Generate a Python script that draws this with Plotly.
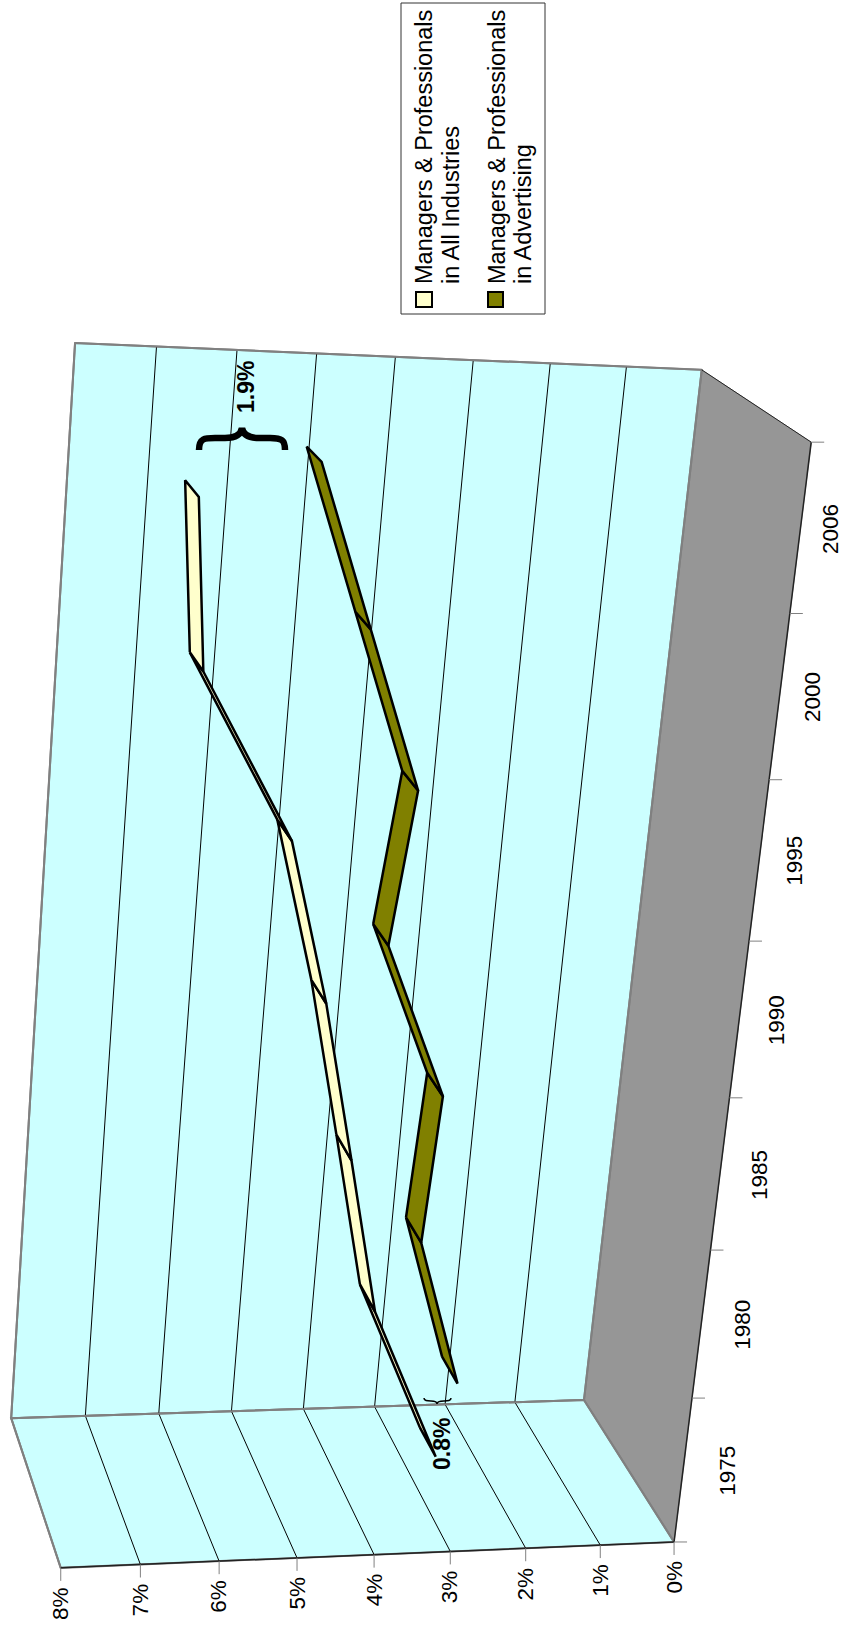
import numpy as np
import plotly.graph_objects as go

categories = ["1975", "1980", "1985", "1990", "1995", "2000", "2006"]
value_ticks = ["0%", "1%", "2%", "3%", "4%", "5%", "6%", "7%", "8%"]
all_industries = [3.13, 4.11, 4.59, 5.08, 5.67, 6.89, 7.09]
advertising = [2.30, 2.99, 2.89, 3.80, 3.60, 4.39, 5.18]

W, H = 849, 1627
world = np.array([[0,0,1],[0,0,0],[1,0,0],[1,0,1],[0,1,0],[0,1,1],[1,1,0]], float)
pix = np.array([[674,1542],[584,1400],[702,370],[811,442],[11,1418],[61,1568],[75,343]], float)
rows = []
for (u, v, d), (x, y) in zip(world, pix):
    X = [u, v, d, 1]
    rows.append(X + [0]*4 + [-x*c for c in X])
    rows.append([0]*4 + X + [-y*c for c in X])
P = np.linalg.svd(np.array(rows))[2][-1].reshape(3, 4)

def proj(u, v, d):
    h = P @ np.array([u, v, d, 1.0])
    return h[0]/h[2], h[1]/h[2]

fig = go.Figure()

def poly(points, fill, line="#808080", width=2):
    xs = [p[0] for p in points] + [points[0][0]]
    ys = [p[1] for p in points] + [points[0][1]]
    fig.add_trace(go.Scatter(x=xs, y=ys, mode="lines", fill="toself", fillcolor=fill,
                             line=dict(color=line, width=width), hoverinfo="skip", showlegend=False))

def segs(pairs, color="black", width=1):
    xs, ys = [], []
    for a, b in pairs:
        xs += [a[0], b[0], None]; ys += [a[1], b[1], None]
    fig.add_trace(go.Scatter(x=xs, y=ys, mode="lines", line=dict(color=color, width=width),
                             hoverinfo="skip", showlegend=False))

poly([proj(0,0,1), proj(0,0,0), proj(1,0,0), proj(1,0,1)], "#969696", "#969696", 1)
poly([proj(0,0,0), proj(1,0,0), proj(1,1,0), proj(0,1,0)], "#CCFFFF")
poly([proj(0,0,1), proj(0,0,0), proj(0,1,0), proj(0,1,1)], "#CCFFFF")
n = len(value_ticks) - 1
grid = []
for k in range(1, n):
    v = k/n
    grid += [(proj(0,v,1), proj(0,v,0)), (proj(0,v,0), proj(1,v,0))]
segs(grid)
segs([(proj(0,0,0), proj(1,0,0)), (proj(0,0,0), proj(0,1,0)), (proj(0,0,0), proj(0,0,1)), (proj(0,1,0), proj(0,1,1)),
      (proj(0,1,0), proj(1,1,0)), (proj(1,0,0), proj(1,1,0))], "#808080", 2)
segs([(proj(0,0,1), proj(1,0,1)), (proj(0,0,1), proj(0,1,1))], "#222222", 1.5)
segs([(proj(1,0,0), proj(1,0,1))], "#222222", 1)
ticks = []
for k in range(n+1):
    p = proj(0, k/n, 1); ticks.append((p, (p[0], p[1]+13)))
nc = len(categories)
for i in range(nc+1):
    p = proj(i/nc, 0, 1); ticks.append((p, (p[0]+13, p[1])))
segs(ticks, "#808080", 1)

def ribbon(values, d0, d1, color):
    for i in range(len(values)-1):
        u0, u1 = (i+.5)/nc, (i+1.5)/nc
        v0, v1 = values[i]/8, values[i+1]/8
        poly([proj(u0,v0,d0), proj(u0,v0,d1), proj(u1,v1,d1), proj(u1,v1,d0)], color, "black", 2.5)

ribbon(advertising, 0.15, 0.35, "#808000")
ribbon(all_industries, 0.65, 0.85, "#FFFFCC")

def text(s, x, y, size=22.5, bold=False, xa="center", ya="middle", angle=-90):
    fig.add_annotation(x=x, y=y, text="<b>%s</b>" % s if bold else s, showarrow=False, textangle=angle,
                       xanchor=xa, yanchor=ya, borderpad=0, font=dict(family="Liberation Sans", size=size, color="black"))

for k, t in enumerate(value_ticks):
    p = proj(0, k/n, 1); text(t, p[0], p[1]+18, ya="top")
for i, t in enumerate(categories):
    u = (i+.5)/nc
    p = proj(u, 0, 1); text(t, p[0]+32-16.7*u, p[1], xa="left")

text("1.9%", 246, 387, size=23, bold=True)
text("0.8%", 442, 1444, size=23, bold=True)

fig.add_shape(type="path", path="M199,450 C199,438 205,438 215,438 L225,438 C235,438 241,435 242,428 C243,435 249,438 259,438 L270,438 C282,438 285,440 285,450",
              line=dict(color="black", width=6.5), xref="x", yref="y")
fig.add_shape(type="path", path="M424,1398 C424,1401 427,1401 431,1401 C435,1401 437,1402 437,1404 C437,1402 440,1401 444,1401 C448,1401 451,1401 451,1398",
              line=dict(color="black", width=1.5), xref="x", yref="y")

fig.add_shape(type="rect", x0=401, x1=545, y0=3, y1=314, line=dict(color="#333333", width=1), fillcolor="white", xref="x", yref="y")
fig.add_shape(type="rect", x0=416, x1=432, y0=292, y1=307, line=dict(color="black", width=2), fillcolor="#FFFFCC", xref="x", yref="y")
fig.add_shape(type="rect", x0=488, x1=503, y0=292, y1=307, line=dict(color="black", width=2), fillcolor="#808000", xref="x", yref="y")
text("Managers &amp; Professionals", 424, 285, size=23.5, ya="bottom")
text("in All Industries", 451, 285, size=23.5, ya="bottom")
text("Managers &amp; Professionals", 497, 285, size=23.5, ya="bottom")
text("in Advertising", 523, 285, size=23.5, ya="bottom")

fig.update_layout(width=W, height=H, margin=dict(l=0, r=0, t=0, b=0), paper_bgcolor="white", plot_bgcolor="white",
                  xaxis=dict(range=[0, W], visible=False), yaxis=dict(range=[H, 0], visible=False), showlegend=False)
fig.write_html("out.html", config=dict(displayModeBar=False),
               post_script="document.body.style.margin='0';window.dispatchEvent(new Event('resize'));")
